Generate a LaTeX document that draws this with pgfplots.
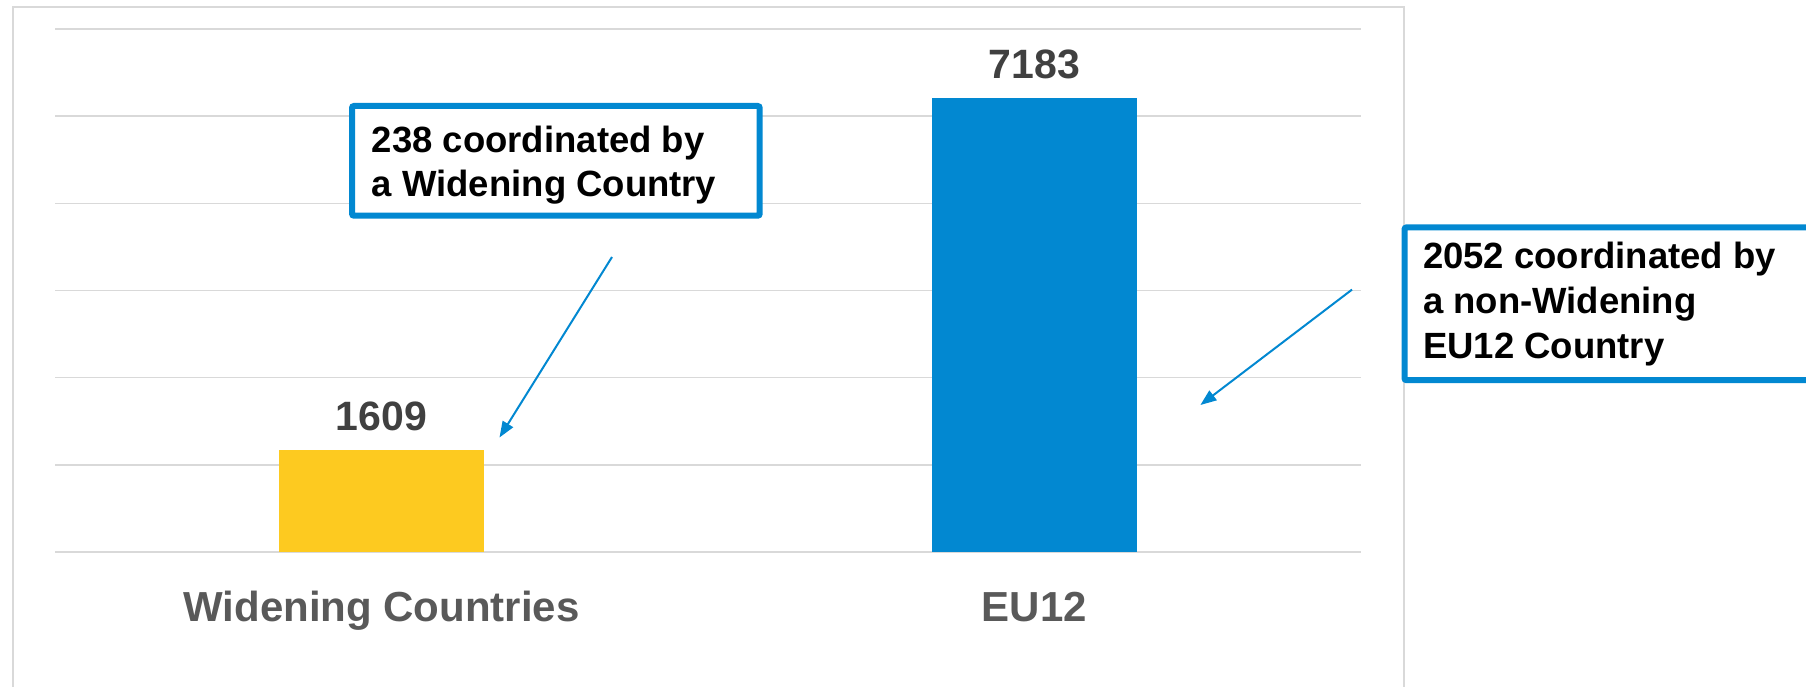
\documentclass[border=0pt]{standalone}
\usepackage{pgfplots}
\pgfplotsset{compat=1.18}
\usepackage{fontspec}
\setmainfont{Liberation Sans}
\usetikzlibrary{arrows.meta}

\definecolor{barblue}{RGB}{2,136,209}
\definecolor{baryellow}{RGB}{253,202,32}
\definecolor{gridgray}{RGB}{217,217,217}
\definecolor{labelgray}{RGB}{89,89,89}
\definecolor{valgray}{RGB}{64,64,64}

\begin{document}
\begin{tikzpicture}[x=1pt,y=1pt]
\clip (0,0) rectangle (1806,686);
% outer chart frame
\draw[gridgray, line width=2pt] (12.6,678.6) rectangle (1404,-20);

\begin{axis}[
    at={(55pt,134pt)}, anchor=south west,
    scale only axis,
    width=1306pt, height=523pt,
    ymin=0, ymax=8280,
    ytick={0,1380,2760,4140,5520,6900,8280},
    yticklabel=\empty,
    ymajorgrids,
    grid style={gridgray, line width=1.5pt},
    axis line style={draw=none},
    major tick length=0pt,
    xmin=-0.5, xmax=1.5,
    xtick={0,1},
    xticklabels={Widening Countries,EU12},
    xticklabel style={font=\fontsize{42}{50}\selectfont\bfseries, text=labelgray,
        anchor=base, yshift=-69pt},
    ybar,
    bar width=205pt,
    nodes near coords={\pgfmathprintnumber[1000 sep={},assume math mode=true]{\pgfplotspointmeta}},
    nodes near coords style={font=\fontsize{41}{48}\selectfont\bfseries, text=valgray,
        anchor=base, yshift=20pt},
    ]
\addplot[fill=baryellow, draw=none, bar shift=0pt] coordinates {(0,1609)};
\addplot[fill=barblue, draw=none, bar shift=0pt] coordinates {(1,7183)};
\end{axis}

% callout arrows
\draw[barblue, line width=2pt, -{Triangle[length=16pt,width=12pt]}] (612,429) -- (499.5,248.5);
\draw[barblue, line width=2pt, -{Triangle[length=16pt,width=12pt]}] (1352,396.4) -- (1200.4,281);

% callout boxes
\draw[barblue, fill=white, line width=6pt, rounded corners=2pt] (352,580) rectangle (759.7,470.3);
\node[anchor=base west, inner sep=0pt, font=\fontsize{36.5}{44}\selectfont\bfseries] at (371.7,533) {238 coordinated by};
\node[anchor=base west, inner sep=0pt, font=\fontsize{36.5}{44}\selectfont\bfseries] at (371.7,489.7) {a Widening Country};

\draw[barblue, fill=white, line width=6pt, rounded corners=2pt] (1404.5,458.6) rectangle (1840,305.8);
\node[anchor=base west, inner sep=0pt, font=\fontsize{36.5}{44}\selectfont\bfseries] at (1422.8,417) {2052 coordinated by};
\node[anchor=base west, inner sep=0pt, font=\fontsize{36.5}{44}\selectfont\bfseries] at (1422.8,372) {a non-Widening};
\node[anchor=base west, inner sep=0pt, font=\fontsize{36.5}{44}\selectfont\bfseries] at (1422.8,327) {EU12 Country};
\end{tikzpicture}
\end{document}
